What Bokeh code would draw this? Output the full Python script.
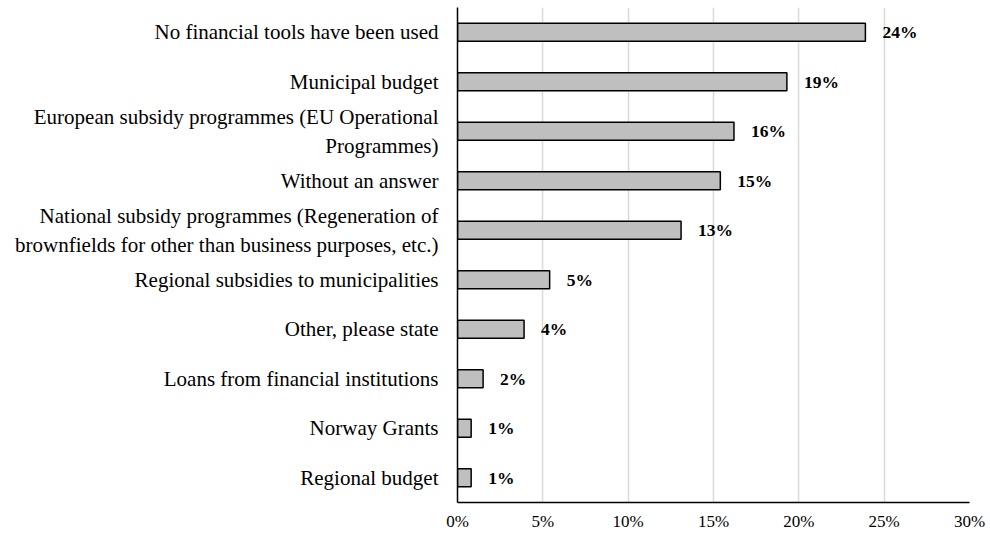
from bokeh.plotting import figure
from bokeh.models import ColumnDataSource, FactorRange, Range1d, NumeralTickFormatter, FixedTicker
from bokeh.core.properties import value
from bokeh.embed import file_html
from bokeh.resources import INLINE

categories = [
    "No financial tools have been used",
    "Municipal budget",
    "European subsidy programmes (EU Operational\nProgrammes)",
    "Without an answer",
    "National subsidy programmes (Regeneration of\nbrownfields for other than business purposes, etc.)",
    "Regional subsidies to municipalities",
    "Other, please state",
    "Loans from financial institutions",
    "Norway Grants",
    "Regional budget",
]
shares = [0.239, 0.193, 0.162, 0.154, 0.131, 0.054, 0.039, 0.015, 0.008, 0.008]
share_labels = ["24%", "19%", "16%", "15%", "13%", "5%", "4%", "2%", "1%", "1%"]
x_ticks = [0.0, 0.05, 0.10, 0.15, 0.20, 0.25, 0.30]

FONT = "'Liberation Serif', 'Times New Roman', serif"

source = ColumnDataSource(data=dict(cat=categories, share=shares, lab=share_labels))

p = figure(
    width=990, height=535,
    y_range=FactorRange(factors=categories[::-1]),
    x_range=Range1d(0, 0.30),
    output_backend="svg", toolbar_location=None,
    min_border_top=7, min_border_bottom=33, min_border_right=21, min_border_left=457,
)
p.outline_line_color = None
p.background_fill_color = "white"
p.border_fill_color = "white"

p.hbar(y="cat", right="share", height=0.36, source=source,
       fill_color="#bfbfbf", line_color="black", line_width=1.5)

p.text(x="share", y="cat", text="lab", source=source,
       x_offset=17, text_align="left", text_baseline="middle",
       text_font=value(FONT), text_font_style="bold", text_font_size="17.5px",
       text_color="black")

p.xaxis.ticker = FixedTicker(ticks=x_ticks)
p.xaxis.formatter = NumeralTickFormatter(format="0%")
p.xaxis.major_tick_out = 0
p.xaxis.major_tick_in = 0
p.xaxis.minor_tick_out = 0
p.xaxis.minor_tick_in = 0
p.xaxis.axis_line_color = "black"
p.xaxis.axis_line_width = 1.5
p.xaxis.major_label_text_font = FONT
p.xaxis.major_label_text_font_size = "17px"
p.xaxis.major_label_text_color = "black"
p.xaxis.major_label_standoff = 9

p.yaxis.major_tick_out = 0
p.yaxis.major_tick_in = 0
p.yaxis.axis_line_color = "black"
p.yaxis.axis_line_width = 1.5
p.yaxis.major_label_text_font = FONT
p.yaxis.major_label_text_font_size = "21px"
p.yaxis.major_label_text_color = "black"
p.yaxis.major_label_text_align = "center"
p.yaxis.major_label_standoff = 19

p.xgrid.ticker = FixedTicker(ticks=x_ticks)
p.xgrid.grid_line_color = "#d9d9d9"
p.xgrid.grid_line_width = 1.5
p.ygrid.grid_line_color = None

open("out.html", "w").write(file_html(p, INLINE))
